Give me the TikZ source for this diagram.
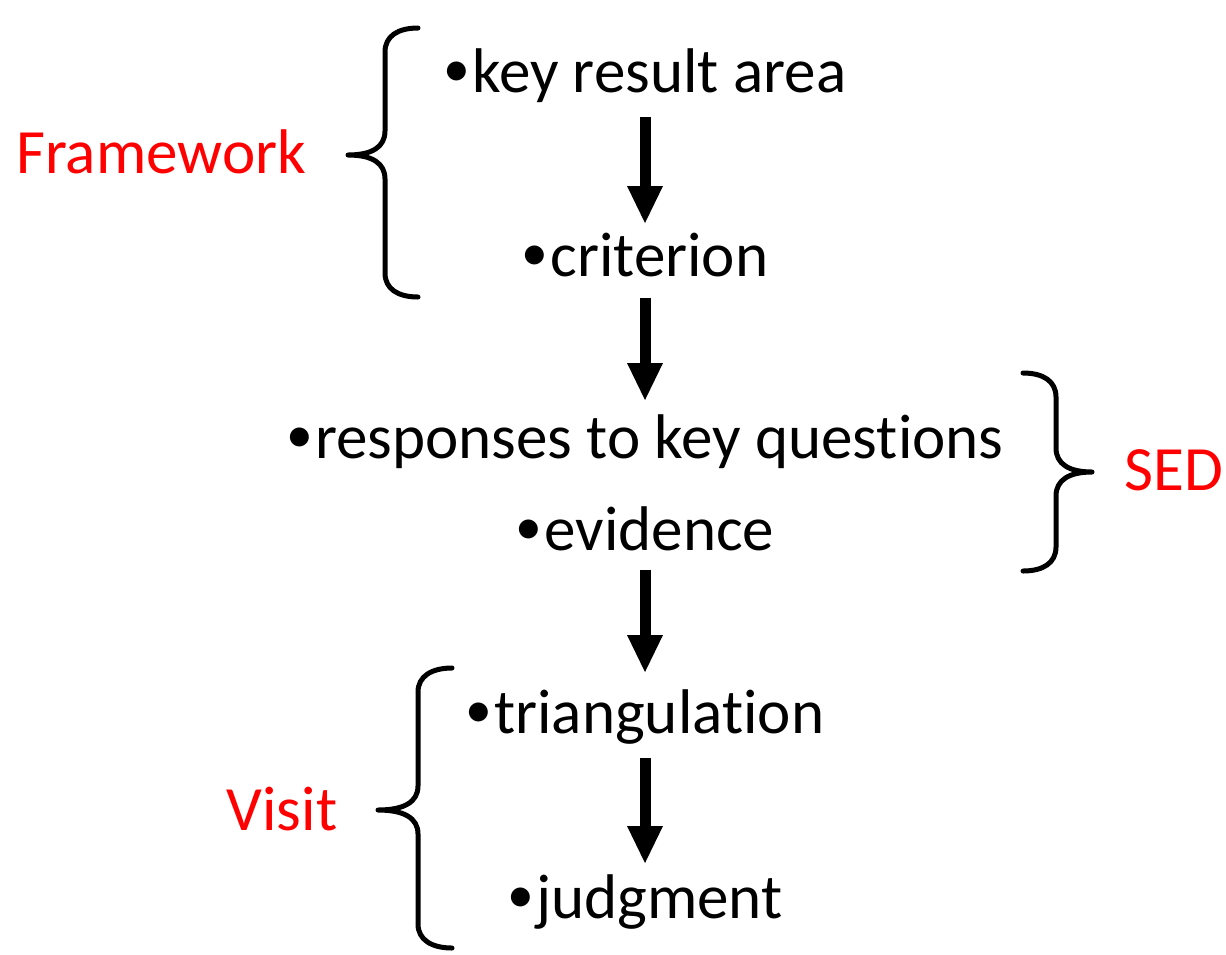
\documentclass[tikz,border=0pt]{standalone}
\usepackage{graphicx}
\usepackage{fontspec}
\setmainfont[Ligatures={NoCommon}]{Carlito}
\usetikzlibrary{arrows.meta}
\newcommand\itm{\raisebox{0.09em}{\scalebox{0.85}{•}}\hspace{0.03em}}
\tikzset{
  entry/.style={anchor=base,inner sep=0pt,font=\fontsize{35.9}{43}\selectfont},
  grouplabel/.style={entry,text=red},
  bigarrow/.style={line width=0.22cm,-{Triangle[length=0.74cm,width=0.72cm,line width=0pt]}},
  bracestroke/.style={line width=0.1cm,line cap=round,line join=round}
}
\begin{document}
\begin{tikzpicture}[x=0.02cm,y=-0.02cm]
\useasboundingbox (0,0) rectangle (1226,954);
% the steps
\node[entry] (kra) at (645,92) {\itm key result area};
\node[entry] (crit) at (645,276) {\itm criterion};
\node[entry] (resp) at (645,458) {\itm responses to key questions};
\node[entry] (evid) at (645,550) {\itm evidence};
\node[entry] (tri) at (645,733) {\itm triangulation};
\node[entry] (judg) at (645,918) {\itm judgment};
\draw[bigarrow] ([yshift=-0.5cm]kra.base) -- ([yshift=1.06cm]crit.base);
\draw[bigarrow] ([yshift=-0.44cm]crit.base) -- ([yshift=1.16cm]resp.base);
\draw[bigarrow] ([yshift=-0.4cm]evid.base) -- ([yshift=1.22cm]tri.base);
\draw[bigarrow] ([yshift=-0.5cm]tri.base) -- ([yshift=1.1cm]judg.base);
% groups
\node[grouplabel] (fw) at (161,173) {Framework};
\node[grouplabel] (sed) at (1174,490) {SED};
\node[grouplabel] (visit) at (282,830) {Visit};
\draw[bracestroke] (418,28) .. controls (398,28) and (385,36) .. (385,52) -- (385,131)
  .. controls (385,147) and (372,155) .. (348,155) .. controls (372,155) and (385,163) .. (385,179)
  -- (385,273) .. controls (385,289) and (398,297) .. (418,297);
\draw[bracestroke] (1023,373) .. controls (1043,373) and (1056,381) .. (1056,397) -- (1056,448)
  .. controls (1056,464) and (1069,472) .. (1092,472) .. controls (1069,472) and (1056,480) .. (1056,496)
  -- (1056,547) .. controls (1056,563) and (1043,571) .. (1023,571);
\draw[bracestroke] (452,668) .. controls (432,668) and (418,676) .. (418,692) -- (418,786)
  .. controls (418,802) and (404,810) .. (378,810) .. controls (404,810) and (418,818) .. (418,834)
  -- (418,924) .. controls (418,940) and (432,948) .. (452,948);
\end{tikzpicture}
\end{document}
